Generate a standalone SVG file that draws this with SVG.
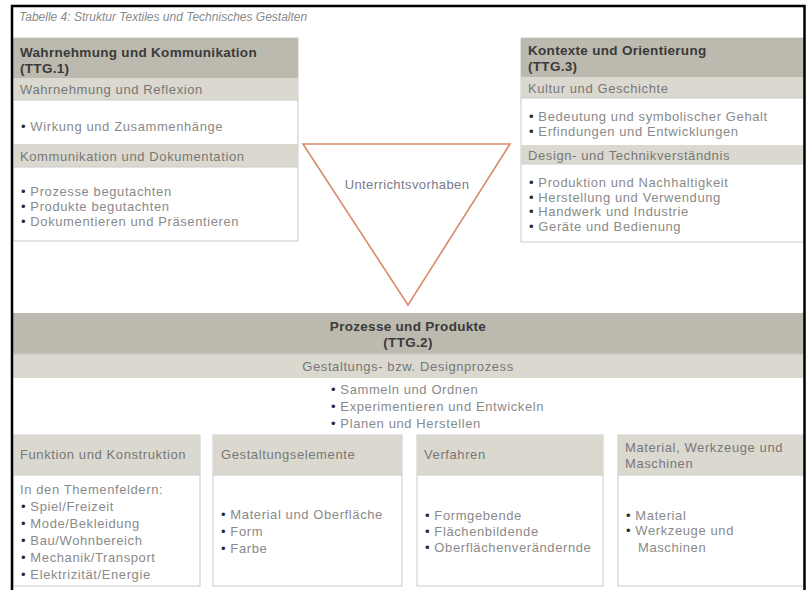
<svg xmlns="http://www.w3.org/2000/svg" width="806" height="590" viewBox="0 0 806 590">
<style>
text{font-family:"Liberation Sans",Arial,sans-serif;}
.t{font-size:12px;font-style:italic;fill:#8a8a8a}
.h{font-size:13.5px;font-weight:bold;fill:#3a3a3a;letter-spacing:0.3px}
.s{font-size:13px;fill:#777;letter-spacing:0.6px}
.b{font-size:13px;fill:#8a8a8a;letter-spacing:0.6px}
.d{fill:#2a2a2a}
.dark{fill:#bcb9ae}
.light{fill:#dbd9cf}
.box{fill:#fff;stroke:#c9c9c9;stroke-width:1}
.sep{stroke:#c9c9c9;stroke-width:1}
.c{text-anchor:middle}
</style>
<rect x="0" y="0" width="806" height="590" fill="#fff"/>
<text class="t" x="19" y="21">Tabelle 4: Struktur Textiles und Technisches Gestalten</text>

<g id="ttg1">
<rect class="box" x="13" y="38" width="285" height="203"/>
<rect class="dark" x="13" y="38" width="285" height="40"/>
<rect class="light" x="13" y="78" width="285" height="22"/>
<rect class="light" x="13" y="144" width="285" height="23"/>
<line class="sep" x1="13" y1="100" x2="298" y2="100"/>
<line class="sep" x1="13" y1="167" x2="298" y2="167"/>
<text class="h" x="20" y="57">Wahrnehmung und Kommunikation</text>
<text class="h" x="20" y="73">(TTG.1)</text>
<text class="s" x="20" y="94">Wahrnehmung und Reflexion</text>
<text class="b" x="21" y="131"><tspan class="d">•</tspan> Wirkung und Zusammenhänge</text>
<text class="s" x="20" y="161">Kommunikation und Dokumentation</text>
<text class="b" x="21" y="196"><tspan class="d">•</tspan> Prozesse begutachten</text>
<text class="b" x="21" y="211"><tspan class="d">•</tspan> Produkte begutachten</text>
<text class="b" x="21" y="226"><tspan class="d">•</tspan> Dokumentieren und Präsentieren</text>
</g>

<g id="ttg3">
<rect class="box" x="521" y="38" width="283" height="204"/>
<rect class="dark" x="521" y="38" width="283" height="39"/>
<rect class="light" x="521" y="77" width="283" height="21"/>
<rect class="light" x="521" y="145" width="283" height="19"/>
<line class="sep" x1="521" y1="98" x2="804" y2="98"/>
<line class="sep" x1="521" y1="164" x2="804" y2="164"/>
<text class="h" x="528" y="55">Kontexte und Orientierung</text>
<text class="h" x="528" y="71">(TTG.3)</text>
<text class="s" x="528" y="93">Kultur und Geschichte</text>
<text class="b" x="529" y="121"><tspan class="d">•</tspan> Bedeutung und symbolischer Gehalt</text>
<text class="b" x="529" y="136"><tspan class="d">•</tspan> Erfindungen und Entwicklungen</text>
<text class="s" x="528" y="160">Design- und Technikverständnis</text>
<text class="b" x="529" y="187"><tspan class="d">•</tspan> Produktion und Nachhaltigkeit</text>
<text class="b" x="529" y="202"><tspan class="d">•</tspan> Herstellung und Verwendung</text>
<text class="b" x="529" y="216"><tspan class="d">•</tspan> Handwerk und Industrie</text>
<text class="b" x="529" y="231"><tspan class="d">•</tspan> Geräte und Bedienung</text>
</g>

<g id="unterrichtsvorhaben">
<polygon points="303,144 510,144 408,305" fill="#fff" stroke="#d98a6c" stroke-width="1.6" stroke-linejoin="miter"/>
<text class="c" x="407" y="189" style="font-size:13px;fill:#7a7a8c;letter-spacing:0.4px">Unterrichtsvorhaben</text>
</g>

<g id="ttg2">
<rect x="13" y="313" width="791" height="120" fill="#fff"/>
<rect class="dark" x="13" y="313" width="791" height="41"/>
<rect class="light" x="13" y="354" width="791" height="24"/>
<line class="sep" x1="13" y1="354" x2="804" y2="354"/>
<text class="h c" x="408" y="331">Prozesse und Produkte</text>
<text class="h c" x="408" y="347">(TTG.2)</text>
<text class="s c" x="408" y="371">Gestaltungs- bzw. Designprozess</text>
<text class="b" x="331" y="394"><tspan class="d">•</tspan> Sammeln und Ordnen</text>
<text class="b" x="331" y="411"><tspan class="d">•</tspan> Experimentieren und Entwickeln</text>
<text class="b" x="331" y="428"><tspan class="d">•</tspan> Planen und Herstellen</text>
</g>

<g id="funktion">
<rect class="box" x="13" y="435" width="187" height="151"/>
<rect class="light" x="13" y="435" width="187" height="40"/>
<line class="sep" x1="13" y1="475" x2="200" y2="475"/>
<text class="s" x="20" y="459">Funktion und Konstruktion</text>
<text class="b" x="20" y="494">In den Themenfeldern:</text>
<text class="b" x="21" y="511"><tspan class="d">•</tspan> Spiel/Freizeit</text>
<text class="b" x="21" y="528"><tspan class="d">•</tspan> Mode/Bekleidung</text>
<text class="b" x="21" y="545"><tspan class="d">•</tspan> Bau/Wohnbereich</text>
<text class="b" x="21" y="562"><tspan class="d">•</tspan> Mechanik/Transport</text>
<text class="b" x="21" y="579"><tspan class="d">•</tspan> Elektrizität/Energie</text>
</g>

<g id="gestaltungselemente">
<rect class="box" x="213" y="435" width="189" height="151"/>
<rect class="light" x="213" y="435" width="189" height="40"/>
<line class="sep" x1="213" y1="475" x2="402" y2="475"/>
<text class="s" x="221" y="459">Gestaltungselemente</text>
<text class="b" x="221" y="519"><tspan class="d">•</tspan> Material und Oberfläche</text>
<text class="b" x="221" y="536"><tspan class="d">•</tspan> Form</text>
<text class="b" x="221" y="553"><tspan class="d">•</tspan> Farbe</text>
</g>

<g id="verfahren">
<rect class="box" x="417" y="435" width="186" height="151"/>
<rect class="light" x="417" y="435" width="186" height="40"/>
<line class="sep" x1="417" y1="475" x2="603" y2="475"/>
<text class="s" x="424" y="459">Verfahren</text>
<text class="b" x="425" y="520"><tspan class="d">•</tspan> Formgebende</text>
<text class="b" x="425" y="536"><tspan class="d">•</tspan> Flächenbildende</text>
<text class="b" x="425" y="552"><tspan class="d">•</tspan> Oberflächenverändernde</text>
</g>

<g id="material">
<rect class="box" x="618" y="435" width="186" height="151"/>
<rect class="light" x="618" y="435" width="186" height="40"/>
<line class="sep" x1="618" y1="475" x2="804" y2="475"/>
<text class="s" x="625" y="452">Material, Werkzeuge und</text>
<text class="s" x="625" y="468">Maschinen</text>
<text class="b" x="626" y="520"><tspan class="d">•</tspan> Material</text>
<text class="b" x="626" y="535"><tspan class="d">•</tspan> Werkzeuge und</text>
<text class="b" x="638" y="552">Maschinen</text>
</g>

<g id="connectors"></g>

<path d="M12,590 V6 H804.5 V590" fill="none" stroke="#000" stroke-width="2.5"/>
</svg>
